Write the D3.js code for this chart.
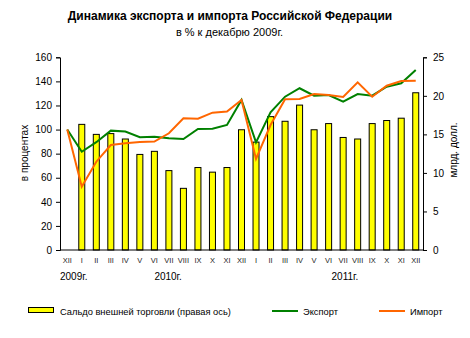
<!DOCTYPE html>
<html><head><meta charset="utf-8">
<script src="https://cdn.jsdelivr.net/npm/d3@7"></script>
<style>body{margin:0;background:#fff}svg{display:block;font-family:"Liberation Sans",Arial,sans-serif}</style>
</head><body><svg id="c" width="470" height="338"></svg>
<script>
const months = ["XII","I","II","III","IV","V","VI","VII","VIII","IX","X","XI","XII","I","II","III","IV","V","VI","VII","VIII","IX","X","XI","XII"];
const saldo = [null,16.3,15.0,15.1,14.4,12.4,12.8,10.3,8.0,10.7,10.1,10.7,15.6,14.0,17.3,16.7,18.8,15.6,16.4,14.6,14.4,16.4,16.8,17.1,20.4];
const exportIdx = [100,81.6,89.5,99.1,98.3,93.6,94.1,92.7,92.2,100.5,100.7,103.8,124.6,89.4,114.3,127.3,134.3,128.1,128.7,123.2,129.5,128.1,135.6,138.4,149.5];
const importIdx = [100,52.6,73.3,87.2,88.6,89.7,90.0,96.9,109.4,109.0,114.0,114.9,124.6,75.6,103.8,125.1,125.4,129.5,128.7,127.0,139.2,127.3,136.4,140.3,140.6];
const years = [{label:"2009г.",i:0},{label:"2010г.",i:6.5},{label:"2011г.",i:18.7}];
const leftTicks = [0,20,40,60,80,100,120,140,160];
const rightTicks = [0,5,10,15,20,25];

const svg = d3.select("#c");
const L=60,R=423,T=57.3,B=250;
const idx = months.map((d,i)=>i);
const x = d3.scaleBand().domain(idx).range([L,R]);
const yL = d3.scaleLinear().domain([0,160]).range([B,T]);
const yR = d3.scaleLinear().domain([0,25]).range([B,T]);

svg.append("text").attr("x",230).attr("y",20).attr("text-anchor","middle")
  .attr("font-size",12).attr("font-weight","bold").text("Динамика экспорта и импорта Российской Федерации");
svg.append("text").attr("x",229.5).attr("y",36).attr("text-anchor","middle")
  .attr("font-size",11).text("в % к декабрю 2009г.");

// bars
svg.append("g").selectAll("rect").data(saldo.map((v,i)=>({v,i})).filter(d=>d.v!=null)).join("rect")
  .attr("x",d=>x.bandwidth()/2+x(d.i)-3).attr("width",6)
  .attr("y",d=>yR(d.v)).attr("height",d=>B-yR(d.v))
  .attr("fill","#ffff00").attr("stroke","#000").attr("stroke-width",1);

// axes
const gl = svg.append("g").attr("transform",`translate(${L},0)`)
  .call(d3.axisLeft(yL).tickValues(leftTicks).tickSize(4).tickPadding(4));
const gr = svg.append("g").attr("transform",`translate(${R},0)`)
  .call(d3.axisRight(yR).tickValues(rightTicks).tickSize(4).tickPadding(6));
[gl,gr].forEach(g=>{g.selectAll("text").attr("font-size",10).attr("font-family","Liberation Sans, Arial");
  g.select(".domain").attr("stroke","#000");});
svg.append("line").attr("x1",L).attr("x2",R).attr("y1",B).attr("y2",B).attr("stroke","#000");

// lines
const line = arr => d3.line().x((d,i)=>x(i)+x.bandwidth()/2).y(d=>yL(d))(arr);
svg.append("path").attr("d",line(exportIdx)).attr("fill","none").attr("stroke","#008000").attr("stroke-width",2);
svg.append("path").attr("d",line(importIdx)).attr("fill","none").attr("stroke","#ff6600").attr("stroke-width",2);

// month labels
svg.append("g").attr("opacity",0.99).selectAll("text").data(months).join("text")
  .attr("x",(d,i)=>x(i)+x.bandwidth()/2).attr("y",263).attr("text-anchor","middle")
  .attr("font-size",7.5).attr("fill","#222").text(d=>d);
svg.append("g").selectAll("text").data(years).join("text")
  .attr("x",d=>x(0)+x.step()*d.i).attr("y",280).attr("font-size",10).text(d=>d.label);

// axis titles
svg.append("text").attr("transform","translate(28,153) rotate(-90)").attr("text-anchor","middle")
  .attr("font-size",10).text("в процентах");
svg.append("text").attr("transform","translate(457,150) rotate(-90)").attr("text-anchor","middle")
  .attr("font-size",10).text("млрд. долл.");

// legend
svg.append("rect").attr("x",28.5).attr("y",307.5).attr("width",25).attr("height",5).attr("fill","#ffff00").attr("stroke","#000");
svg.append("text").attr("x",60).attr("y",315).attr("font-size",9.3).text("Сальдо внешней торговли (правая ось)");
svg.append("line").attr("x1",272).attr("x2",298).attr("y1",311).attr("y2",311).attr("stroke","#008000").attr("stroke-width",2);
svg.append("text").attr("x",303).attr("y",315).attr("font-size",9.3).text("Экспорт");
svg.append("line").attr("x1",379).attr("x2",405).attr("y1",311).attr("y2",311).attr("stroke","#ff6600").attr("stroke-width",2);
svg.append("text").attr("x",410).attr("y",315).attr("font-size",9.3).text("Импорт");
</script></body></html>
